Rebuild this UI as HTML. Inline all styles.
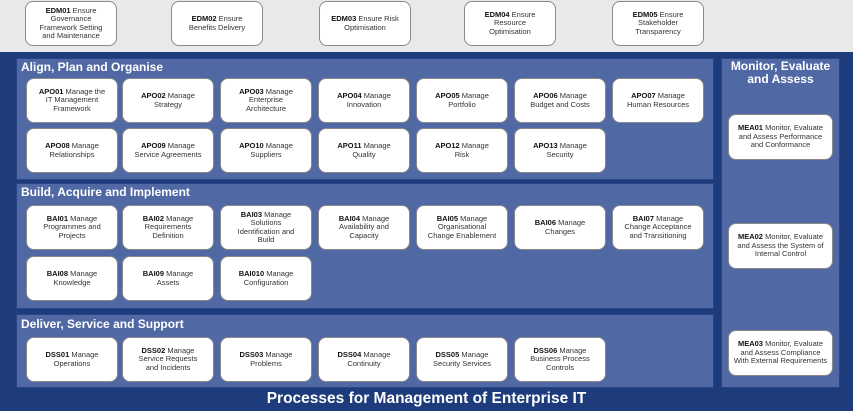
<!DOCTYPE html>
<html><head><meta charset="utf-8"><style>
*{margin:0;padding:0;box-sizing:border-box}
body{width:853px;height:411px;overflow:hidden;background:#e9e9ea;font-family:"Liberation Sans",Arial,sans-serif;position:relative}
.blue{position:absolute;left:0;top:52px;width:853px;height:359px;background:#1e3c7c}
.panel{position:absolute;background:#5068a4;border:1px solid #2a4585}
.pt{position:absolute;color:#fff;font-weight:bold;font-size:12px}
.b{position:absolute;width:92px;height:45px;background:#fff;border:1px solid #8a8a8a;border-radius:8px;display:flex;align-items:center;justify-content:center;text-align:center;font-size:7.5px;line-height:8.5px;color:#333;padding:0 10px}
.b b{color:#111}
.m{padding:0 3px}
</style></head><body>
<div class="b" style="left:25px;top:1px"><div><b>EDM01</b> Ensure Governance Framework Setting and Maintenance</div></div>
<div class="b" style="left:171px;top:1px"><div><b>EDM02</b> Ensure Benefits Delivery</div></div>
<div class="b" style="left:319px;top:1px"><div><b>EDM03</b> Ensure Risk Optimisation</div></div>
<div class="b" style="left:464px;top:1px"><div><b>EDM04</b> Ensure Resource Optimisation</div></div>
<div class="b" style="left:612px;top:1px"><div><b>EDM05</b> Ensure Stakeholder Transparency</div></div>
<div class="blue"></div>
<div class="panel" style="left:16px;top:58px;width:698px;height:122px"></div>
<div class="panel" style="left:16px;top:183px;width:698px;height:126px"></div>
<div class="panel" style="left:16px;top:314px;width:698px;height:74px"></div>
<div class="panel" style="left:721px;top:58px;width:119px;height:330px"></div>
<div class="pt" style="left:21px;top:60px">Align, Plan and Organise</div>
<div class="pt" style="left:21px;top:185px">Build, Acquire and Implement</div>
<div class="pt" style="left:21px;top:317px">Deliver, Service and Support</div>
<div class="pt" style="left:721px;top:60px;width:119px;text-align:center;line-height:13px;font-size:12px">Monitor, Evaluate<br>and Assess</div>
<div class="b" style="left:26px;top:78px"><div><b>APO01</b> Manage the IT Management Framework</div></div>
<div class="b" style="left:122px;top:78px"><div><b>APO02</b> Manage Strategy</div></div>
<div class="b" style="left:220px;top:78px"><div><b>APO03</b> Manage Enterprise Architecture</div></div>
<div class="b" style="left:318px;top:78px"><div><b>APO04</b> Manage Innovation</div></div>
<div class="b" style="left:416px;top:78px"><div><b>APO05</b> Manage Portfolio</div></div>
<div class="b" style="left:514px;top:78px"><div><b>APO06</b> Manage Budget and Costs</div></div>
<div class="b" style="left:612px;top:78px"><div><b>APO07</b> Manage Human Resources</div></div>
<div class="b" style="left:26px;top:128px"><div><b>APO08</b> Manage Relationships</div></div>
<div class="b" style="left:122px;top:128px"><div><b>APO09</b> Manage Service Agreements</div></div>
<div class="b" style="left:220px;top:128px"><div><b>APO10</b> Manage Suppliers</div></div>
<div class="b" style="left:318px;top:128px"><div><b>APO11</b> Manage Quality</div></div>
<div class="b" style="left:416px;top:128px"><div><b>APO12</b> Manage Risk</div></div>
<div class="b" style="left:514px;top:128px"><div><b>APO13</b> Manage Security</div></div>
<div class="b" style="left:26px;top:205px"><div><b>BAI01</b> Manage Programmes and Projects</div></div>
<div class="b" style="left:122px;top:205px"><div><b>BAI02</b> Manage Requirements Definition</div></div>
<div class="b" style="left:220px;top:205px"><div><b>BAI03</b> Manage Solutions Identification and Build</div></div>
<div class="b" style="left:318px;top:205px"><div><b>BAI04</b> Manage Availability and Capacity</div></div>
<div class="b" style="left:416px;top:205px"><div><b>BAI05</b> Manage Organisational Change Enablement</div></div>
<div class="b" style="left:514px;top:205px"><div><b>BAI06</b> Manage Changes</div></div>
<div class="b" style="left:612px;top:205px"><div><b>BAI07</b> Manage Change Acceptance and Transitioning</div></div>
<div class="b" style="left:26px;top:256px"><div><b>BAI08</b> Manage Knowledge</div></div>
<div class="b" style="left:122px;top:256px"><div><b>BAI09</b> Manage Assets</div></div>
<div class="b" style="left:220px;top:256px"><div><b>BAI010</b> Manage Configuration</div></div>
<div class="b" style="left:26px;top:337px"><div><b>DSS01</b> Manage Operations</div></div>
<div class="b" style="left:122px;top:337px"><div><b>DSS02</b> Manage Service Requests and Incidents</div></div>
<div class="b" style="left:220px;top:337px"><div><b>DSS03</b> Manage Problems</div></div>
<div class="b" style="left:318px;top:337px"><div><b>DSS04</b> Manage Continuity</div></div>
<div class="b" style="left:416px;top:337px"><div><b>DSS05</b> Manage Security Services</div></div>
<div class="b" style="left:514px;top:337px"><div><b>DSS06</b> Manage Business Process Controls</div></div>
<div class="b m" style="left:728px;top:114px;width:105px;height:46px"><div><b>MEA01</b> Monitor, Evaluate and Assess Performance and Conformance</div></div>
<div class="b m" style="left:728px;top:223px;width:105px;height:46px"><div><b>MEA02</b> Monitor, Evaluate and Assess the System of Internal Control</div></div>
<div class="b m" style="left:728px;top:330px;width:105px;height:46px"><div><b>MEA03</b> Monitor, Evaluate and Assess Compliance With External Requirements</div></div>
<div style="position:absolute;left:0;top:390px;width:853px;text-align:center;color:#fff;font-weight:bold;font-size:15.5px">Processes for Management of Enterprise IT</div>
</body></html>
